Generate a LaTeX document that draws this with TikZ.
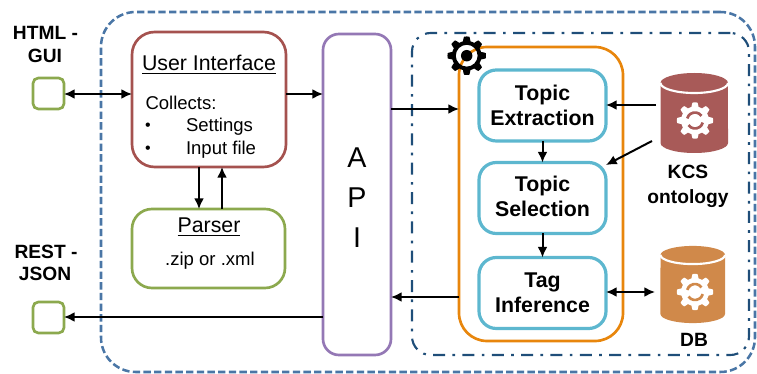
\documentclass[tikz,border=0pt]{standalone}
\usepackage{fontspec}
\setmainfont{Liberation Sans}
\usetikzlibrary{arrows.meta}
\definecolor{outerc}{HTML}{4A76A6}
\definecolor{innerc}{HTML}{1F4E79}
\definecolor{uic}{HTML}{A5524F}
\definecolor{greenc}{HTML}{8CA94E}
\definecolor{apic}{HTML}{9478B5}
\definecolor{orangec}{HTML}{E8860C}
\definecolor{tealc}{HTML}{5DB7CF}
\definecolor{kcsc}{HTML}{A85A58}
\definecolor{dbc}{HTML}{D0894A}
\def\pxu{0.75pt}
\newcommand{\gearshape}[3]{plot[variable=\t,domain=0:360,samples=241] ({#1+#3*(1+0.13*max(-1,min(1,2.2*cos(8*\t))))*cos(\t)},{#2+#3*(1+0.13*max(-1,min(1,2.2*cos(8*\t))))*sin(\t)}) -- cycle}
\newcommand{\dbicon}[7]{% left right top-centre bottom-centre ry/pt rx/pt colour
  \fill[#7] (#1,#3) arc[start angle=180,end angle=0,x radius=#6,y radius=#5] -- (#2,#4) arc[start angle=0,end angle=-180,x radius=#6,y radius=#5] -- cycle;
  \draw[white,line width=1.6pt] (#1,#3) arc[start angle=180,end angle=360,x radius=#6,y radius=#5];
}
\newcommand{\whitegear}[3]{%
  \fill[white] \gearshape{#1}{#2}{16};
  \draw[#3,line width=2pt] ([shift={(35:6pt)}]#1,#2) arc[start angle=35,end angle=165,radius=6pt];
  \draw[#3,line width=2pt] ([shift={(215:6pt)}]#1,#2) arc[start angle=215,end angle=345,radius=6pt];
}
\tikzset{
  every node/.style={inner sep=0pt,outer sep=0pt},
  box/.style={draw,rectangle,line width=2pt,fill=white},
  outerbox/.style={draw=outerc,rectangle,line width=1.9pt,rounded corners=26pt,dash pattern=on 5.5pt off 2.5pt},
  innerbox/.style={draw=innerc,rectangle,line width=1.6pt,rounded corners=14pt,dash pattern=on 9pt off 5.5pt on 2pt off 5.5pt},
  tealbox/.style={box,draw=tealc,line width=2.4pt,rounded corners=13pt,minimum width=127*\pxu,minimum height=71*\pxu,align=center,font=\fontsize{16}{18.75}\selectfont\bfseries},
  port/.style={box,draw=greenc,rounded corners=4pt,minimum width=31*\pxu,minimum height=31*\pxu},
  lab/.style={anchor=base,font=\fontsize{14.4}{17}\selectfont\bfseries},
  big/.style={anchor=base,font=\fontsize{16}{19}\selectfont},
  body/.style={anchor=base,font=\fontsize{13.9}{17}\selectfont},
  bodyl/.style={body,anchor=base west},
  bullet/.style={anchor=base west,font=\fontsize{12}{14}\selectfont},
  conn/.style={line width=1.5pt,-{Latex[length=8pt,width=7.5pt]}},
  conb/.style={line width=1.5pt,{Latex[length=8pt,width=7.5pt]}-{Latex[length=8pt,width=7.5pt]}},
}
\begin{document}
\begin{tikzpicture}[x=0.75pt,y=-0.75pt]
\useasboundingbox (0,0) rectangle (757,374);
% containers
\node[outerbox,minimum width=654*\pxu,minimum height=360*\pxu] (outer) at (428,192) {};
\node[innerbox,minimum width=337*\pxu,minimum height=322*\pxu] (inner) at (580.5,194) {};
% orange pipeline
\node[box,draw=orangec,fill=none,rounded corners=21pt,minimum width=164*\pxu,minimum height=294*\pxu] (pipe) at (541,194) {};
\fill[black,even odd rule] \gearshape{466.7}{55.7}{17} (466.7,55.7) circle[radius=8.2pt];
\fill[black] (466.7,55.7) circle[radius=4.3pt];
% left boxes
\node[box,draw=uic,rounded corners=17pt,minimum width=154*\pxu,minimum height=135*\pxu] (ui) at (209,99.5) {};
\node[box,draw=greenc,rounded corners=15pt,minimum width=153*\pxu,minimum height=79*\pxu] (parser) at (208.5,248.5) {};
\node[box,draw=apic,rounded corners=12pt,minimum width=68*\pxu,minimum height=321*\pxu,align=center,font=\fontsize{21.5}{30}\selectfont] (api) at (357,194.5) {\rule{0pt}{19pt}A\\P\\I};
\node[port] (html) at (48.5,93.5) {};
\node[port] (rest) at (48.5,317.5) {};
% teal boxes
\node[tealbox] (te) at (542.5,105.5) {Topic\\Extraction};
\node[tealbox] (ts) at (542.5,198) {Topic\\Selection\rule[-3pt]{0pt}{3pt}};
\node[tealbox] (ti) at (542.5,293) {Tag\\Inference};
% cylinders
\dbicon{660.5}{728}{83}{143}{7.5pt}{25.3pt}{kcsc}
\whitegear{695}{120.5}{kcsc}
\dbicon{660.5}{725}{255}{314}{6.8pt}{24.2pt}{dbc}
\whitegear{695}{292}{dbc}
% texts
\node[lab] (t1) at (45.5,40) {HTML -};
\node[lab] (t2) at (45,63) {GUI};
\node[lab] (t3) at (46,258) {REST -};
\node[lab] (t4) at (45,281) {JSON};
\node[lab] (t5) at (688,179) {KCS};
\node[lab] (t6) at (688,204) {ontology};
\node[lab] (t7) at (694,346) {DB};
\node[big] (t8) at (209,71) {\underline{User Interface}};
\node[bodyl] (t9) at (145.5,110) {Collects:};
\node[bullet] (t10) at (145,131) {•};
\node[bodyl] (t11) at (186,132) {Settings};
\node[bullet] (t12) at (145,154) {•};
\node[bodyl] (t13) at (186,155) {Input file};
\node[big] (t14) at (209,233) {\underline{Parser}};
\node[body] (t15) at (210,266) {.zip or .xml};
% free ends
\coordinate (ka) at (656,105);
\coordinate (kb) at (652,141);
\coordinate (kt) at (606,165);
\coordinate (db) at (655,292);
\coordinate (a1) at (199,94);
\coordinate (a2) at (222,94);
% connectors
\draw[conb] (html.east |- 0,94) -- (ui.west |- 0,94);
\draw[conn] (ui.east |- 0,94) -- (api.west |- 0,94);
\draw[conn] (ui.south -| a1) -- (parser.north -| a1);
\draw[conn] (parser.north -| a2) -- (ui.south -| a2);
\draw[conn] (api.east |- 0,109) -- (pipe.west |- 0,109);
\draw[conn] (pipe.west |- 0,297) -- (api.east |- 0,297);
\draw[conn] (api.west |- 0,317) -- (rest.east |- 0,317);
\draw[conn] (ka) -- (te.east |- ka);
\draw[conn] (kb) -- (kt);
\draw[conn] (te.south) -- (ts.north);
\draw[conn] (ts.south) -- (ti.north);
\draw[conb] (ti.east |- db) -- (db);
\end{tikzpicture}
\end{document}
